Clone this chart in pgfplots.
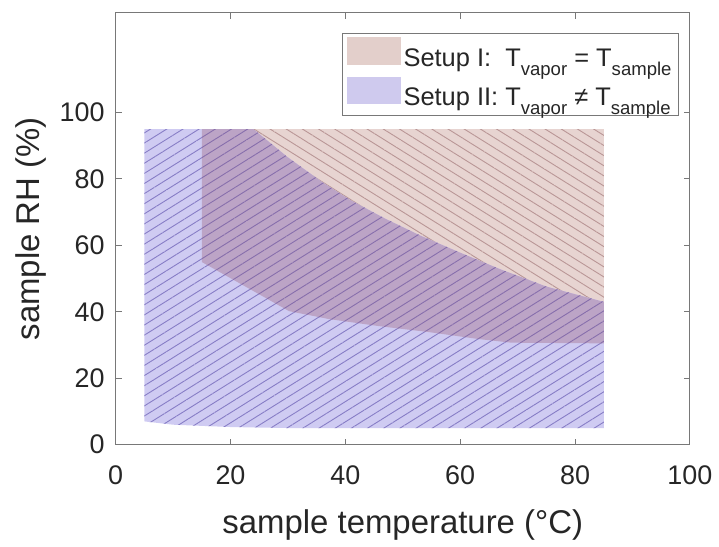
\documentclass[border=0pt]{standalone}
\usepackage{fontspec}
\setmainfont{Liberation Sans}
\usepackage{pgfplots}
\pgfplotsset{compat=1.18}
\usetikzlibrary{patterns.meta}

\definecolor{txt}{RGB}{38,38,38}
\definecolor{axgray}{RGB}{120,120,120}
\definecolor{pinkfill}{RGB}{231,212,209}
\definecolor{pinkline}{RGB}{185,150,150}
\definecolor{bluefill}{RGB}{207,203,242}
\definecolor{blueline}{RGB}{135,125,198}
\definecolor{mixfill}{RGB}{188,164,198}
\definecolor{mixline}{RGB}{135,110,172}
\definecolor{pinkleg}{RGB}{227,207,203}
\definecolor{blueleg}{RGB}{207,202,238}

\newcommand\sub[1]{\raisebox{-4.5pt}{\fontsize{9.3}{10}\selectfont #1}}

% region outlines, shared by fill and hatch
\pgfplotstableread{
x y
15 55
30.2 40.2
37.2 37.8
45.8 35.7
54.5 33.9
63.2 31.8
68.9 30.7
85 30.5
85 95
15 95
15 55
}\setupone
\pgfplotstableread{
x y
5 7
10 6
20 5.3
30 5
85 5
85 43
75 47.6
67 52.8
60 57.8
53 63
47 68
41 73.5
36 79
30 86.5
24 95
5 95
5 7
}\setuptwo
\pgfplotstableread{
x y
15 55
30.2 40.2
37.2 37.8
45.8 35.7
54.5 33.9
63.2 31.8
68.9 30.7
85 30.5
85 43
75 47.6
67 52.8
60 57.8
53 63
47 68
41 73.5
36 79
30 86.5
24 95
15 95
15 55
}\overlap

\begin{document}
\begin{tikzpicture}
\begin{axis}[
    name=ax,
    scale only axis,
    width=288pt, height=216.5pt,
    xmin=0, xmax=100, ymin=0, ymax=130,
    xtick={0,20,...,100}, ytick={0,20,...,100},
    tick align=inside, major tick length=3pt,
    axis line style={draw=axgray, line width=0.5pt},
    every tick/.style={draw=axgray, line width=0.5pt},
    ticklabel style={font=\fontsize{13.5}{16}\selectfont, text=txt},
    /pgf/number format/assume math mode=true,
    yticklabel style={xshift=-2pt},
    xticklabel style={yshift=-7pt},
    xlabel={sample temperature (°C)},
    ylabel={sample RH (\%)},
    xlabel style={yshift=-5.5pt},
    label style={font=\fontsize{16.5}{20}\selectfont, text=txt},
    axis on top,
    legend cell align=left,
    legend style={at={(0.981,0.954)}, anchor=north east,
        draw=axgray, line width=0.5pt, text=txt,
        font=\fontsize{12.75}{15}\selectfont,
        inner xsep=2pt, inner ysep=2pt, row sep=2pt,
        nodes={inner sep=1.5pt}},
]
% Setup I (pink)
\addplot[draw=none, fill=pinkfill,
    legend image code/.code={\fill[pinkleg] (3pt,-3pt) rectangle (30pt,11pt);}]
    table {\setupone};
\addlegendentry{Setup I:\ \ T\sub{vapor} = T\sub{sample}}
\addplot[draw=none, forget plot,
    pattern={Lines[angle=-32, distance=4.3pt, line width=0.45pt]}, pattern color=pinkline]
    table {\setupone};
% Setup II (blue)
\addplot[draw=none, fill=bluefill,
    legend image code/.code={\fill[blueleg] (3pt,-3pt) rectangle (30pt,11pt);}]
    table {\setuptwo};
\addlegendentry{Setup II: T\sub{vapor} ≠ T\sub{sample}}
\addplot[draw=none, forget plot,
    pattern={Lines[angle=32, distance=4.3pt, line width=0.45pt]}, pattern color=blueline]
    table {\setuptwo};
% overlap of both setups
\addplot[draw=none, fill=mixfill, forget plot] table {\overlap};
\addplot[draw=none, forget plot,
    pattern={Lines[angle=32, distance=4.3pt, line width=0.45pt]}, pattern color=mixline]
    table {\overlap};
\end{axis}
\path (ax.south west) ++(-58pt,-46.5pt);
\path (ax.north east) ++(13.5pt,6.5pt);
\end{tikzpicture}
\end{document}
